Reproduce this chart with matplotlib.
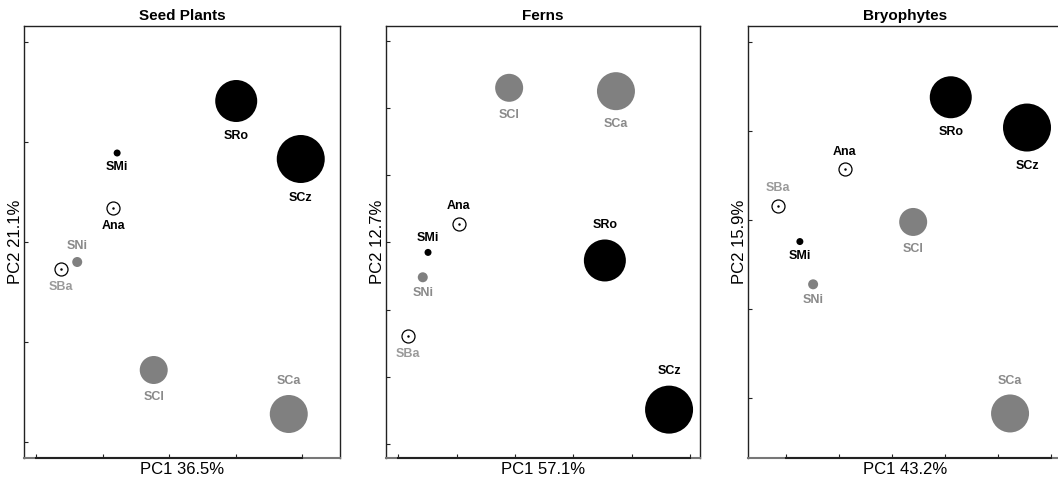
import matplotlib
matplotlib.use("Agg")
import matplotlib.pyplot as plt

plt.rcParams['font.family'] = ['Liberation Sans', 'DejaVu Sans']

sites = ["SRo", "SCz", "SMi", "Ana", "SNi", "SBa", "SCl", "SCa"]
site_kind = ["black", "black", "black", "open", "gray", "open", "gray", "gray"]
site_size = [21, 24, 3.5, 6.5, 5, 6.5, 14, 19]  # radius in px
label_colors = ["#000000", "#000000", "#000000", "#000000", "#8a8a8a", "#9a9a9a", "#8a8a8a", "#8a8a8a"]

titles = ["Seed Plants", "Ferns", "Bryophytes"]
xlabels = ["PC1 36.5%", "PC1 57.1%", "PC1 43.2%"]
ylabels = ["PC2 21.1%", "PC2 12.7%", "PC2 15.9%"]

pc1_seed = [0.101, 0.198, -0.078, -0.084, -0.138, -0.162, -0.023, 0.180]
pc2_seed = [0.141, 0.083, 0.089, 0.034, -0.020, -0.027, -0.128, -0.172]
pc1_fern = [0.154, 0.264, -0.149, -0.096, -0.158, -0.183, -0.010, 0.173]
pc2_fern = [-0.027, -0.249, -0.015, 0.027, -0.052, -0.139, 0.230, 0.225]
pc1_bryo = [0.111, 0.255, -0.174, -0.089, -0.149, -0.215, 0.040, 0.223]
pc2_bryo = [0.138, 0.104, -0.024, 0.057, -0.072, 0.016, -0.002, -0.217]

# +1 label above point, -1 label below
lab_seed = [-1, -1, -1, -1, 1, -1, -1, 1]
lab_fern = [1, 1, 1, 1, -1, -1, -1, -1]
lab_bryo = [-1, -1, -1, 1, -1, 1, -1, 1]

xlims = [(-0.218, 0.257), (-0.221, 0.317), (-0.272, 0.323)]
ylims = [(-0.216, 0.216), (-0.321, 0.322), (-0.267, 0.218)]
xticks = [[-0.2, -0.1, 0, 0.1, 0.2], [-0.2, -0.1, 0, 0.1, 0.2, 0.3], [-0.2, -0.1, 0, 0.1, 0.2, 0.3]]
yticks = [[-0.2, -0.1, 0, 0.1, 0.2], [-0.3, -0.2, -0.1, 0, 0.1, 0.2, 0.3], [-0.2, -0.1, 0, 0.1, 0.2]]

panels = [(pc1_seed, pc2_seed, lab_seed), (pc1_fern, pc2_fern, lab_fern), (pc1_bryo, pc2_bryo, lab_bryo)]

W, H = 1058, 480
fig = plt.figure(figsize=(W / 100, H / 100), dpi=100)
lefts = [24, 386, 748]
widths = [316, 314, 315]
top_px, bot_px = 26, 458

px2pt = 0.72
for i, (xs, ys, labs) in enumerate(panels):
    ax = fig.add_axes([lefts[i] / W, (H - bot_px) / H, widths[i] / W, (bot_px - top_px) / H])
    ax.set_xlim(*xlims[i])
    ax.set_ylim(*ylims[i])
    for j in range(len(sites)):
        r = site_size[j]
        s = (2 * r * px2pt) ** 2
        kind = site_kind[j]
        if kind == "open":
            ax.scatter([xs[j]], [ys[j]], s=s, facecolor="white", edgecolor="black", linewidth=0.9, zorder=3)
            ax.scatter([xs[j]], [ys[j]], s=0.6, color="black", zorder=4)
        else:
            col = "black" if kind == "black" else "#808080"
            ax.scatter([xs[j]], [ys[j]], s=s, color=col, edgecolor="none", zorder=3)
        off = (r * 1.2 + 10) * px2pt * labs[j]
        ax.annotate(sites[j], (xs[j], ys[j]), xytext=(0, off), textcoords="offset points",
                    ha="center", va="center", fontsize=9, fontweight="bold",
                    color=label_colors[j], zorder=5)
    ax.set_xticks(xticks[i])
    ax.set_yticks(yticks[i])
    ax.tick_params(direction="in", length=3, width=0.8, labelbottom=False, labelleft=False,
                   color="#222222")
    for side in ["left", "top", "right"]:
        ax.spines[side].set_color("#222222")
        ax.spines[side].set_linewidth(1.0)
    ax.spines["bottom"].set_color("#777777")
    ax.spines["bottom"].set_linewidth(1.5)
    ax.plot([xticks[i][0], xticks[i][-1]], [ylims[i][0], ylims[i][0]], color="#222222",
            lw=1.5, clip_on=False, zorder=6)
    ax.set_title(titles[i], fontsize=11, fontweight="bold", pad=4)
    ax.set_xlabel(xlabels[i], fontsize=12)
    ax.set_ylabel(ylabels[i], fontsize=12)
    ax.xaxis.set_label_coords(0.5, -4 / (bot_px - top_px))
    ax.yaxis.set_label_coords(-1 / widths[i], 0.5)

fig.savefig("out.png", dpi=100)
